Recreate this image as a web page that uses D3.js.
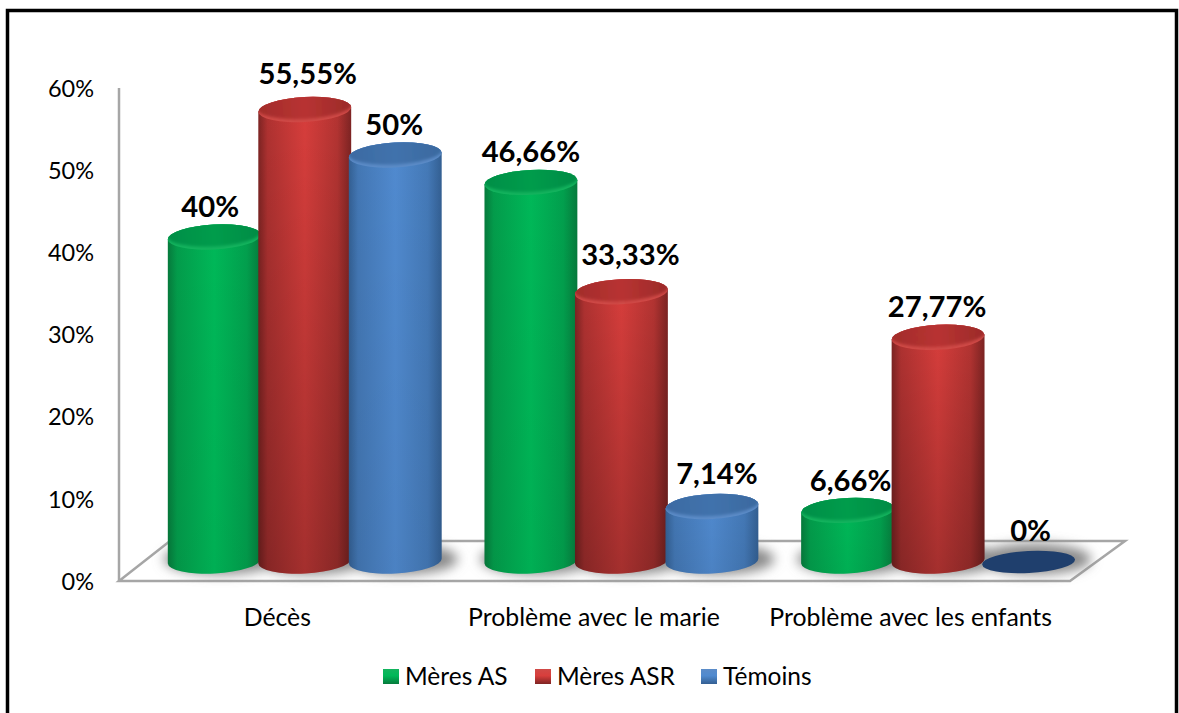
<!DOCTYPE html>
<html>
<head>
<meta charset="utf-8">
<script src="https://cdn.jsdelivr.net/npm/d3@7/dist/d3.min.js"></script>
<style>
  html, body { margin: 0; padding: 0; background: #fff; }
  svg { display: block; }
  text { font-family: Lato, "Noto Sans", sans-serif; fill: #000; }
</style>
</head>
<body>
<svg id="chart" width="1179" height="713"></svg>
<script>
// Values, in percent, one list per series
const categories = ["Décès", "Problème avec le marie", "Problème avec les enfants"];
const seriesNames = ["Mères AS", "Mères ASR", "Témoins"];
const meresAS = [40, 46.66, 6.66];
const meresASR = [55.55, 33.33, 27.77];
const temoins = [50, 7.14, 0];
const seriesValues = [meresAS, meresASR, temoins];
const tickValues = [0, 10, 20, 30, 40, 50, 60];

// Per-series paint: cylinder edge, cylinder centre, cap, cap rim, lower shading
const edgeColors = ["#067a3c", "#7e2423", "#335f92"];
const midColors = ["#00b858", "#d83e3c", "#508acf"];
const capColors = ["#059c4c", "#b83231", "#4172ac"];
const rimColors = ["#14b45e", "#d04a47", "#5c8cc8"];
const lowerShade = [0.05, 0.24, 0.06];
const emptyCapColor = "#1f3f6d";

// Small shifts keeping the value labels clear of neighbouring bars
const labelShiftX = [[-4, 3, -1], [0, 9, 5], [3, -1, 2]];
const labelShiftY = [[0, -5, 0], [0, -6, -2], [1, 0, -4]];

const svg = d3.select("#chart");
const defs = svg.append("defs");

// Frame around the whole chart
svg.append("rect").attr("x", 7.5).attr("y", 10.5).attr("width", 1169).attr("height", 706)
  .attr("fill", "#fff").attr("stroke", "#000").attr("stroke-width", 3.5);

// Scales: the printed axis sits on the front edge, the cylinders stand further back on the floor
const axisY = d3.scaleLinear().domain([0, 60]).range([581, 88]);
const barY = d3.scaleLinear().domain([0, 60]).range([565, 73]);
const floorY = 561;
const x0 = d3.scaleBand().domain(categories).range([146, 1096]);
const x1 = d3.scaleBand().domain(seriesNames).range([23, 294.5]);
const labelX = d3.scaleBand().domain(categories).range([119, 1069]);

const rx = 46.5, ry = 12.5, tilt = -3;
const rad = tilt * Math.PI / 180;
const dx = rx * Math.cos(rad), dy = rx * Math.sin(rad);

// Filters and gradients
defs.append("filter").attr("id", "soft").attr("x", "-30%").attr("y", "-60%").attr("width", "160%").attr("height", "220%")
  .append("feGaussianBlur").attr("stdDeviation", 6);
defs.append("filter").attr("id", "softCap").attr("x", "-10%").attr("y", "-30%").attr("width", "120%").attr("height", "160%")
  .append("feGaussianBlur").attr("stdDeviation", 1.6);

seriesNames.forEach((s, i) => {
  const body = defs.append("linearGradient").attr("id", "body" + i);
  [[0, edgeColors[i]], [0.1, d3.interpolateRgb(edgeColors[i], midColors[i])(0.55)], [0.5, midColors[i]],
   [0.85, d3.interpolateRgb(edgeColors[i], midColors[i])(0.6)], [1, edgeColors[i]]]
    .forEach(([o, c]) => body.append("stop").attr("offset", o).attr("stop-color", c));
  const cap = defs.append("linearGradient").attr("id", "cap" + i);
  [[0, d3.interpolateRgb(capColors[i], edgeColors[i])(0.4)], [0.5, capColors[i]], [1, d3.interpolateRgb(capColors[i], edgeColors[i])(0.5)]]
    .forEach(([o, c]) => cap.append("stop").attr("offset", o).attr("stop-color", c));
  const shade = defs.append("linearGradient").attr("id", "shade" + i).attr("x2", 0).attr("y2", 1);
  shade.append("stop").attr("offset", 0).attr("stop-color", "#000").attr("stop-opacity", 0);
  shade.append("stop").attr("offset", 1).attr("stop-color", "#000").attr("stop-opacity", lowerShade[i]);
  // Small bevelled legend key
  const key = defs.append("linearGradient").attr("id", "key" + i).attr("x2", 0).attr("y2", 1);
  key.append("stop").attr("offset", 0).attr("stop-color", rimColors[i]);
  key.append("stop").attr("offset", 0.45).attr("stop-color", midColors[i]);
  key.append("stop").attr("offset", 1).attr("stop-color", edgeColors[i]);
});

// Floor and left wall
const wallColor = "#a6a6a6";
const floorPts = [[119, 581], [1070, 581], [1125, 541], [170, 541]];
svg.append("polygon").attr("points", floorPts.join(" "))
  .attr("fill", "#fff").attr("stroke", wallColor).attr("stroke-width", 2.5);
svg.append("line").attr("x1", 119).attr("x2", 119).attr("y1", 88).attr("y2", 582)
  .attr("stroke", wallColor).attr("stroke-width", 2.5);

// Soft shadows cast on the floor
const shadows = svg.append("g").attr("filter", "url(#soft)");
categories.forEach((c) => {
  seriesNames.forEach((s) => {
    shadows.append("ellipse")
      .attr("cx", x0(c) + x1(s) + x1.bandwidth() / 2 + 6)
      .attr("cy", floorY - 2)
      .attr("rx", rx + 10).attr("ry", ry + 3)
      .attr("fill", "#8a8a8a");
  });
});

// Cylinders, left to right so each one overlaps its left neighbour
const bars = svg.append("g");
categories.forEach((c, ci) => {
  seriesNames.forEach((s, si) => {
    const value = seriesValues[si][ci];
    const cx = x0(c) + x1(s) + x1.bandwidth() / 2;
    const top = barY(value), base = floorY;
    const g = bars.append("g");
    if (value === 0) {
      g.append("ellipse").attr("cx", cx).attr("cy", base + 1).attr("rx", rx).attr("ry", 11)
        .attr("transform", `rotate(${tilt} ${cx} ${base + 1})`).attr("fill", emptyCapColor);
      return;
    }
    const outline = `M${cx - dx},${top - dy}L${cx - dx},${base - dy}` +
      `A${rx},${ry} ${tilt} 0 0 ${cx + dx},${base + dy}L${cx + dx},${top + dy}` +
      `A${rx},${ry} ${tilt} 0 0 ${cx - dx},${top - dy}Z`;
    g.append("path").attr("d", outline).attr("fill", `url(#body${si})`);
    g.append("path").attr("d", outline).attr("fill", `url(#shade${si})`);
    const rot = `rotate(${tilt} ${cx} ${top})`;
    // The cap's darker face is clipped to the cap so only its lower rim stays light
    const clipId = `capClip${ci}${si}`;
    defs.append("clipPath").attr("id", clipId).append("ellipse")
      .attr("cx", cx).attr("cy", top).attr("rx", rx).attr("ry", ry).attr("transform", rot);
    g.append("ellipse").attr("cx", cx).attr("cy", top).attr("rx", rx).attr("ry", ry)
      .attr("transform", rot).attr("fill", rimColors[si]);
    g.append("g").attr("clip-path", `url(#${clipId})`).append("ellipse")
      .attr("cx", cx).attr("cy", top - 3).attr("rx", rx + 1).attr("ry", ry)
      .attr("transform", rot).attr("fill", `url(#cap${si})`).attr("filter", "url(#softCap)");
  });
});

// Value axis labels
const axis = d3.axisLeft(axisY).tickValues(tickValues).tickFormat(d => d + "%").tickSize(0).tickPadding(0);
const axisG = svg.append("g").attr("transform", "translate(94,0)").call(axis);
axisG.select(".domain").remove();
axisG.selectAll("text").style("font-size", "23.5px").attr("dy", "0.35em").style("fill", "#000");

// Category labels
svg.append("g").selectAll("text").data(categories).join("text")
  .attr("x", d => labelX(d) + labelX.bandwidth() / 2)
  .attr("y", 626)
  .attr("text-anchor", "middle")
  .style("font-size", "24.8px").style("fill", "#000")
  .text(d => d);

// Value labels above each cylinder
const fmt = v => String(v).replace(".", ",") + "%";
categories.forEach((c, ci) => {
  seriesNames.forEach((s, si) => {
    const value = seriesValues[si][ci];
    svg.append("text")
      .attr("x", x0(c) + x1(s) + x1.bandwidth() / 2 + labelShiftX[ci][si])
      .attr("y", barY(value) - ry - 8 + labelShiftY[ci][si])
      .attr("text-anchor", "middle")
      .style("font-size", "29.2px").style("font-weight", 700)
      .text(fmt(value));
  });
});

// Legend
const legendX = [383, 535, 701];
const legend = svg.append("g").selectAll("g").data(seriesNames).join("g")
  .attr("transform", (d, i) => `translate(${legendX[i]},669)`);
legend.append("rect").attr("width", 16).attr("height", 15).attr("fill", (d, i) => `url(#key${i})`);
legend.append("text").attr("x", 22).attr("y", 16).style("font-size", "24.5px").style("fill", "#000").text(d => d);
</script>
</body>
</html>
